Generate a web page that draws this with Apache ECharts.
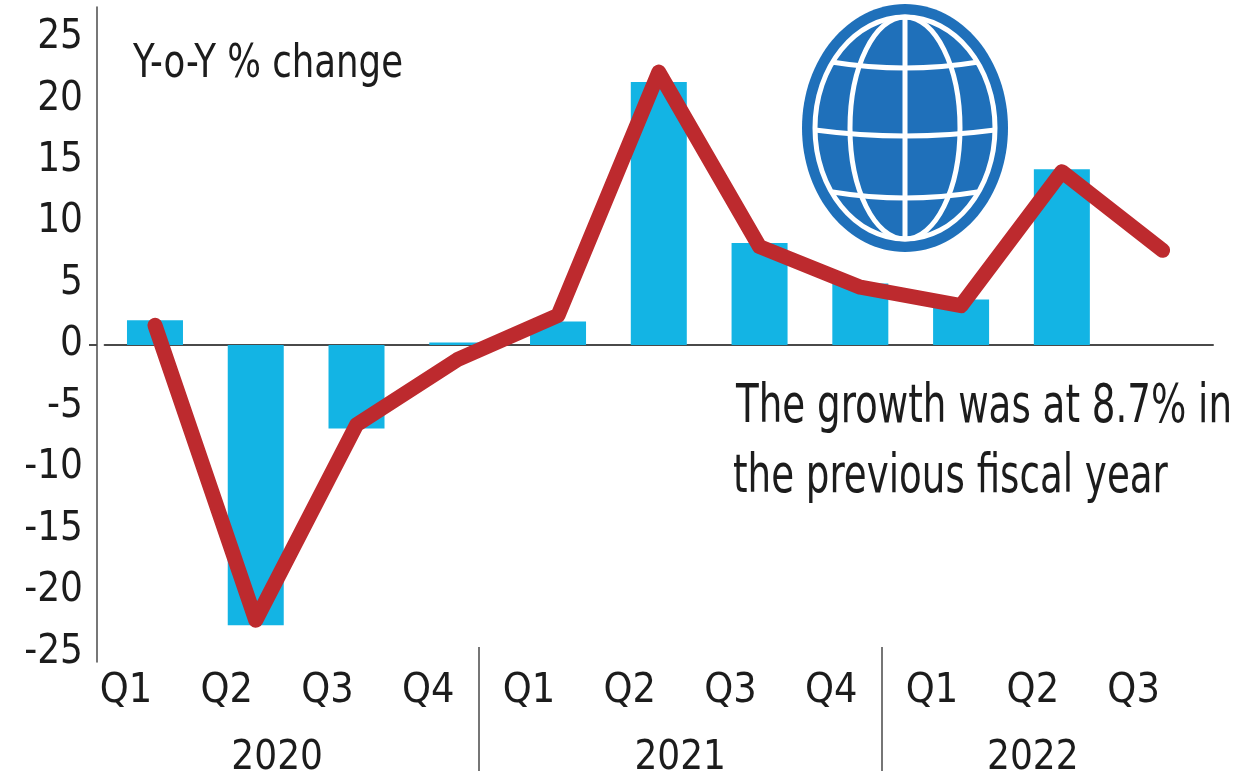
<!DOCTYPE html>
<html>
<head>
<meta charset="utf-8">
<script src="https://cdn.jsdelivr.net/npm/echarts@6/dist/echarts.min.js"></script>
<style>
html,body{margin:0;padding:0;background:#fff;}
#chart{width:1260px;height:779px;}
</style>
</head>
<body>
<div id="chart"></div>
<script>
// ---- data ----
const quarters = ['Q1','Q2','Q3','Q4','Q1','Q2','Q3','Q4','Q1','Q2','Q3'];
const years = ['2020','2021','2022'];
const quartersPerYear = [4, 4, 3];
const barValues = [2.0, -22.8, -6.8, 0.2, 1.9, 21.4, 8.3, 5.0, 3.7, 14.3, null];
const lineValues = [1.6, -22.4, -6.5, -1.2, 2.4, 22.2, 8.0, 4.7, 3.2, 14.1, 7.7];
const yTicks = [-25, -20, -15, -10, -5, 0, 5, 10, 15, 20, 25];
const unitLabel = 'Y-o-Y % change';
const noteLines = ['The growth was at 8.7% in', 'the previous fiscal year'];

// derived group positions (in category index units)
const yearCenters = [];
const yearSeparators = [];
let start = 0;
quartersPerYear.forEach((n, i) => {
  yearCenters.push(start + (n - 1) / 2);
  start += n;
  if (i < quartersPerYear.length - 1) yearSeparators.push(start - 0.5);
});

const FONT = "'DejaVu Sans Condensed', 'Liberation Sans Narrow', 'DejaVu Sans', sans-serif";
const TXT = '#1c1c1c';
const AX = '#4a4a4a';

// horizontal squeeze so the wide fallback font matches the narrow original lettering
function fitScale(text, font, targetW) {
  const ctx = document.createElement('canvas').getContext('2d');
  ctx.font = font;
  return targetW / ctx.measureText(text).width;
}

// globe decoration
function globe() {
  const cx = 905, cy = 128;
  const rxIn = 90, ryIn = 111;
  const W = '#ffffff';
  const children = [
    { type: 'ellipse', shape: { cx: 0, cy: 0, rx: 103, ry: 124 }, style: { fill: '#1f70ba' } },
    { type: 'ellipse', shape: { cx: 0, cy: 0, rx: rxIn, ry: ryIn }, style: { fill: 'none', stroke: W, lineWidth: 5 } },
    { type: 'ellipse', shape: { cx: 0, cy: 0, rx: 55, ry: ryIn }, style: { fill: 'none', stroke: W, lineWidth: 5 } },
    { type: 'line', shape: { x1: 0, y1: -ryIn, x2: 0, y2: ryIn }, style: { stroke: W, lineWidth: 5 } }
  ];
  [-64, 4, 66].forEach(yy => {
    const hx = rxIn * Math.sqrt(1 - (yy / ryIn) * (yy / ryIn));
    children.push({
      type: 'bezierCurve',
      shape: { x1: -hx, y1: yy - 2, x2: hx, y2: yy - 2, cpx1: 0, cpy1: yy + 10 },
      style: { fill: 'none', stroke: W, lineWidth: 5 }
    });
  });
  return { type: 'group', x: cx, y: cy, z: 100, children };
}

const unitFont = '46px ' + FONT;
const noteFont = '54px ' + FONT;
const unitScale = fitScale(unitLabel, unitFont, 270);
const noteScale = fitScale(noteLines[0], noteFont, 496);

const chart = echarts.init(document.getElementById('chart'), null, { renderer: 'canvas' });

const option = {
  animation: false,
  backgroundColor: '#ffffff',
  textStyle: { fontFamily: FONT, color: TXT },
  grid: [
    { left: 104.6, right: 47, top: 7, bottom: 117 },
    { left: 75.6, right: 76, top: 7, bottom: 131 }
  ],
  xAxis: [
    {
      type: 'category', gridIndex: 0, data: quarters,
      axisLabel: { show: false }, axisTick: { show: false },
      axisLine: { show: true, onZero: true, lineStyle: { color: AX, width: 2 } }
    },
    {
      type: 'category', gridIndex: 1, data: quarters, position: 'bottom',
      axisLine: { show: false }, axisTick: { show: false },
      axisLabel: { fontSize: 41, color: TXT, fontFamily: FONT, margin: 24 }
    },
    {
      type: 'value', gridIndex: 1, position: 'bottom', min: -0.5, max: quarters.length - 0.5,
      axisLine: { show: false }, splitLine: { show: false },
      axisTick: { show: true, customValues: yearSeparators, length: 124, lineStyle: { color: AX, width: 1.5 } },
      axisLabel: {
        customValues: yearCenters, fontSize: 40, color: TXT, fontFamily: FONT, margin: 92,
        formatter: v => {
          let best = 0;
          yearCenters.forEach((c, i) => { if (Math.abs(c - v) < Math.abs(yearCenters[best] - v)) best = i; });
          return years[best];
        }
      }
    }
  ],
  yAxis: [
    {
      type: 'value', gridIndex: 0, min: -25.8, max: 27.5, offset: 7.6,
      splitLine: { show: false },
      axisLine: { show: true, lineStyle: { color: AX, width: 1.5 } },
      axisTick: { show: true, customValues: [0], length: 8, lineStyle: { color: AX, width: 2 } },
      axisLabel: { customValues: yTicks, fontSize: 40, color: TXT, fontFamily: FONT, margin: 14 }
    },
    { type: 'value', gridIndex: 1, show: false, min: -25.8, max: 27.5 }
  ],
  series: [
    {
      type: 'bar', xAxisIndex: 0, yAxisIndex: 0, data: barValues,
      barWidth: 56, itemStyle: { color: '#13b4e4' }, z: 2
    },
    {
      type: 'line', xAxisIndex: 0, yAxisIndex: 0, data: lineValues,
      symbol: 'none', smooth: false,
      lineStyle: { color: '#bd2a2e', width: 15, cap: 'round', join: 'round' }, z: 3
    }
  ],
  graphic: [
    { type: 'text', x: 133, y: 65, scaleX: unitScale, style: { text: unitLabel, font: unitFont, fill: TXT, verticalAlign: 'middle', align: 'left' } },
    { type: 'text', x: 736, y: 408, scaleX: noteScale, style: { text: noteLines[0], font: noteFont, fill: TXT, verticalAlign: 'middle', align: 'left' } },
    { type: 'text', x: 733, y: 478, scaleX: noteScale, style: { text: noteLines[1], font: noteFont, fill: TXT, verticalAlign: 'middle', align: 'left' } },
    globe()
  ]
};

chart.setOption(option);
</script>
</body>
</html>
